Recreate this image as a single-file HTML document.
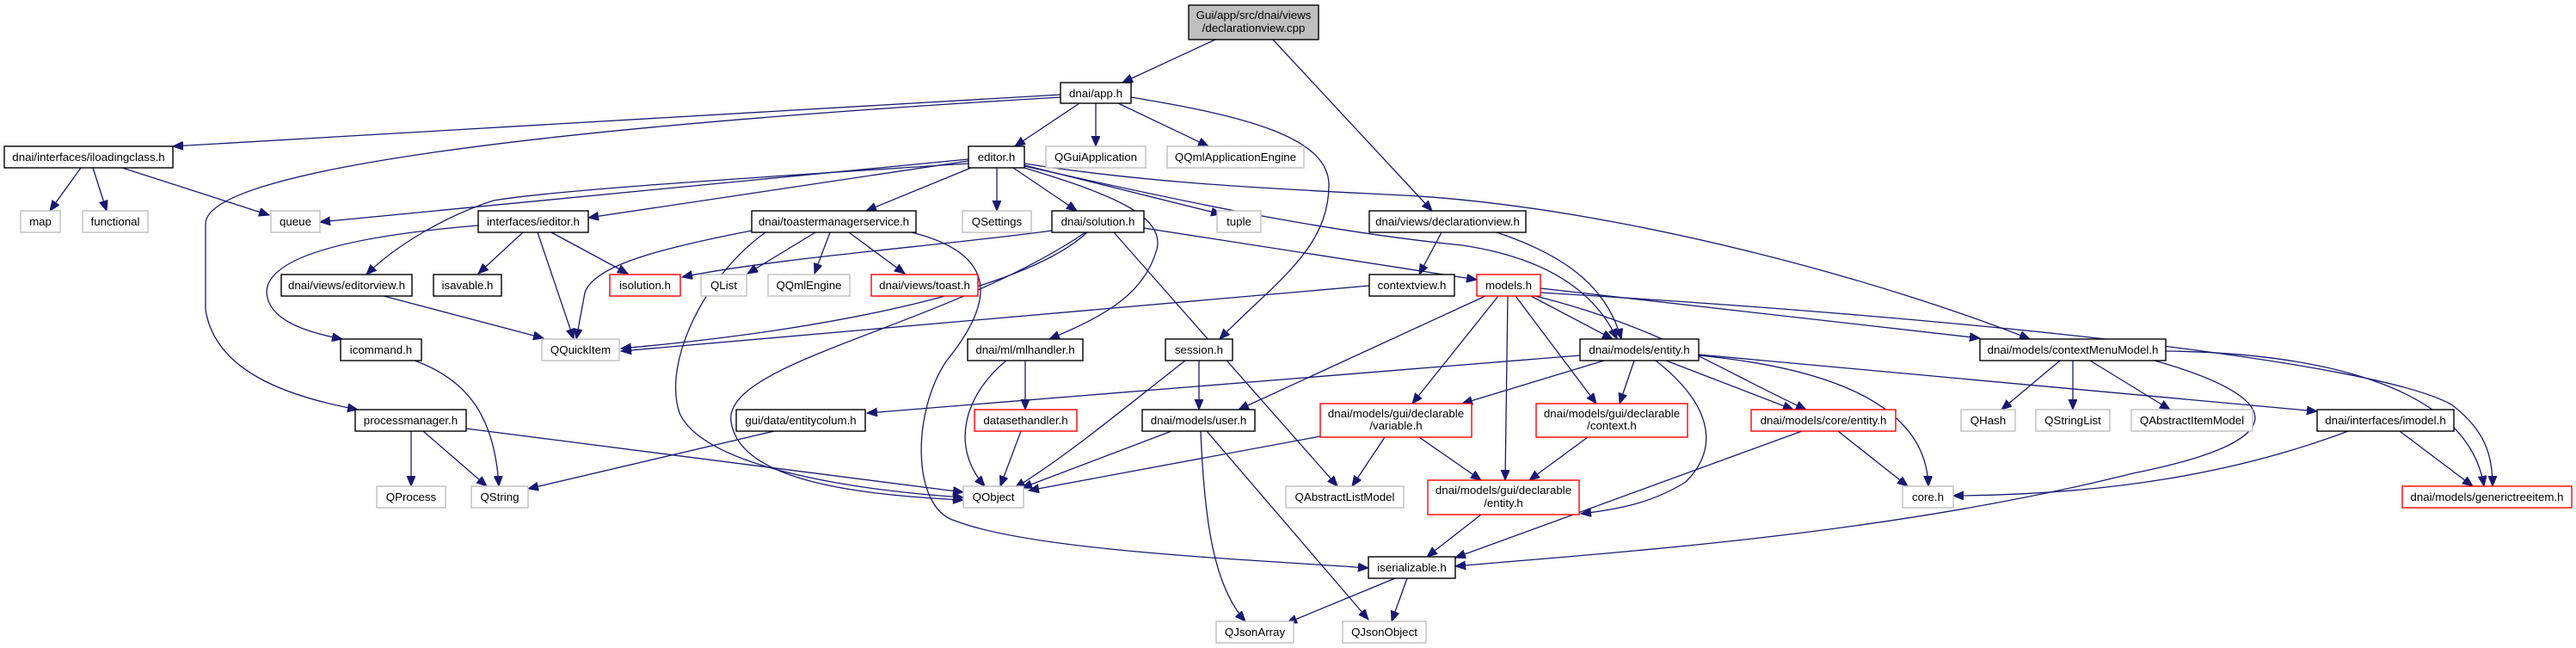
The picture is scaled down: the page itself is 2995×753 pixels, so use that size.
<!DOCTYPE html>
<html><head><meta charset="utf-8"><style>
html,body{margin:0;padding:0;background:#fff;}
svg{display:block;}
text{font-family:"Liberation Sans",Arial,sans-serif;font-size:13.3px;fill:#000;text-anchor:middle;}
.e{fill:none;stroke:#191970;stroke-width:1.3;marker-end:url(#a);}
.b{fill:#fff;stroke:#000;stroke-width:1.4;}
.g{fill:#fff;stroke:#bfbfbf;stroke-width:1.4;}
.r{fill:#fff;stroke:#ff0000;stroke-width:1.4;}
</style></head><body>
<svg width="2995" height="753" viewBox="0 0 2995 753" xmlns="http://www.w3.org/2000/svg">
<defs><marker id="a" markerUnits="userSpaceOnUse" markerWidth="14" markerHeight="12" refX="12" refY="5" orient="auto"><path d="M0,0 L12,5 L0,10 z" fill="#191970" stroke="#191970"/></marker></defs>

<!-- edges -->
<path class="e" d="M1413,46 L1305,96"/>
<path class="e" d="M1480,46 L1665,245"/>
<path class="e" d="M1233,110 L201,170"/>
<path class="e" d="M1233,113 C600,150 239,200 239,260 L239,360 C250,430 330,460 416,476"/>
<path class="e" d="M1255,120 L1180,170"/>
<path class="e" d="M1274,120 L1274,170"/>
<path class="e" d="M1300,120 L1405,170"/>
<path class="e" d="M1315,113 C1450,135 1545,160 1545,215 C1545,290 1480,330 1418,394"/>

<path class="e" d="M1126,185 L372,258"/>
<path class="e" d="M1126,187 L684,253"/>
<path class="e" d="M1126,190 C900,205 650,220 574,233 C520,250 460,285 426,319"/>
<path class="e" d="M1129,195 L1007,245"/>
<path class="e" d="M1159,195 L1159,245"/>
<path class="e" d="M1178,195 L1252,245"/>
<path class="e" d="M1191,192 L1420,249"/>
<path class="e" d="M1191,195 C1290,225 1355,250 1345,290 C1330,340 1290,365 1220,394"/>
<path class="e" d="M1191,193 C1400,240 1550,270 1700,285 C1800,300 1855,340 1880,394"/>
<path class="e" d="M1191,190 C1350,215 1500,220 1650,228 C1900,245 2200,330 2360,394"/>

<path class="e" d="M874,268 C760,290 690,310 680,340 L670,394"/>
<path class="e" d="M948,270 L869,318"/>
<path class="e" d="M965,270 L947,318"/>
<path class="e" d="M987,270 L1052,318"/>
<path class="e" d="M1060,270 C1180,300 1140,370 1100,420 C1060,480 1060,590 1110,605 C1200,640 1450,650 1591,660"/>
<path class="e" d="M890,270 C820,320 770,420 790,480 C820,545 1000,570 1120,578"/>

<path class="e" d="M556,262 C400,275 310,300 310,340 C312,370 350,385 398,394"/>
<path class="e" d="M608,270 L556,318"/>
<path class="e" d="M625,270 L667,394"/>
<path class="e" d="M641,270 L730,318"/>
<path class="e" d="M446,344 L632,393"/>
<path class="e" d="M94,195 L58,245"/>
<path class="e" d="M108,195 L124,245"/>
<path class="e" d="M142,195 L313,250"/>
<path class="e" d="M482,419 C540,440 575,480 580,565"/>
<path class="e" d="M478,501 L478,565"/>
<path class="e" d="M492,501 L566,565"/>
<path class="e" d="M542,498 L1120,572"/>
<path class="e" d="M900,501 L614,568"/>

<path class="e" d="M1192,419 L1192,476"/>
<path class="e" d="M1170,419 C1120,460 1105,520 1145,565"/>
<path class="e" d="M1187,501 L1163,565"/>
<path class="e" d="M1378,419 C1300,480 1240,530 1180,567"/>
<path class="e" d="M1394,419 L1394,476"/>
<path class="e" d="M1362,501 L1188,567"/>
<path class="e" d="M1396,501 C1400,600 1410,680 1448,722"/>
<path class="e" d="M1403,501 L1591,720"/>
<path class="e" d="M1535,507 L1196,570"/>

<path class="e" d="M1223,268 C1100,285 900,300 793,322"/>
<path class="e" d="M1264,270 C1200,330 1000,380 722,405"/>
<path class="e" d="M1262,270 C1100,380 840,420 850,490 C860,560 1000,575 1120,581"/>
<path class="e" d="M1330,265 L1717,325"/>
<path class="e" d="M1295,270 L1555,565"/>

<path class="e" d="M1676,270 L1650,319"/>
<path class="e" d="M1740,270 C1830,300 1870,340 1885,394"/>
<path class="e" d="M1592,332 L722,408"/>

<path class="e" d="M1780,344 L1875,394"/>
<path class="e" d="M1727,344 L1440,476"/>
<path class="e" d="M1742,344 L1642,469"/>
<path class="e" d="M1753,344 L1750,558"/>
<path class="e" d="M1762,344 L1856,469"/>
<path class="e" d="M1785,344 C1930,380 2000,430 2100,476"/>
<path class="e" d="M1791,335 L2302,393"/>
<path class="e" d="M1791,340 C2300,370 2760,420 2850,470 C2890,500 2898,530 2898,565"/>

<path class="e" d="M1837,413 L1008,480"/>
<path class="e" d="M1865,419 L1700,469"/>
<path class="e" d="M1900,419 L1883,469"/>
<path class="e" d="M1925,419 C1990,470 2000,520 1960,560 C1920,585 1880,592 1838,597"/>
<path class="e" d="M1937,419 L2085,476"/>
<path class="e" d="M1975,413 C2150,430 2240,480 2242,565"/>
<path class="e" d="M1975,412 L2694,478"/>
<path class="e" d="M1610,508 L1572,565"/>
<path class="e" d="M1650,508 L1722,558"/>
<path class="e" d="M1846,508 L1778,558"/>
<path class="e" d="M1722,598 L1659,647"/>
<path class="e" d="M2095,501 L1692,648"/>
<path class="e" d="M2137,501 L2218,565"/>

<path class="e" d="M2395,419 L2327,476"/>
<path class="e" d="M2410,419 L2410,476"/>
<path class="e" d="M2430,419 L2523,476"/>
<path class="e" d="M2505,419 C2650,460 2680,510 2480,550 C2200,620 1900,640 1692,658"/>
<path class="e" d="M2518,408 C2700,410 2870,450 2888,565"/>
<path class="e" d="M2730,501 C2600,550 2450,575 2271,576"/>
<path class="e" d="M2790,501 L2875,565"/>
<path class="e" d="M1622,672 L1496,724"/>
<path class="e" d="M1636,672 L1618,722"/>

<!-- nodes -->
<rect x="1382" y="6" width="151" height="40" fill="#bfbfbf" stroke="#000" stroke-width="1.4"/>
<text x="1457.5" y="22">Gui/app/src/dnai/views</text><text x="1457.5" y="37">/declarationview.cpp</text>

<rect class="b" x="1233" y="96" width="82" height="24"/><text x="1274" y="113">dnai/app.h</text>
<rect class="b" x="5" y="170" width="196" height="25"/><text x="103" y="187">dnai/interfaces/iloadingclass.h</text>
<rect class="b" x="1126" y="170" width="65" height="25"/><text x="1158.5" y="187">editor.h</text>
<rect class="g" x="1216" y="170" width="116" height="25"/><text x="1274" y="187">QGuiApplication</text>
<rect class="g" x="1357" y="170" width="159" height="25"/><text x="1436.5" y="187">QQmlApplicationEngine</text>

<rect class="g" x="24" y="245" width="46" height="25"/><text x="47" y="262">map</text>
<rect class="g" x="96" y="245" width="76" height="25"/><text x="134" y="262">functional</text>
<rect class="g" x="315" y="245" width="57" height="25"/><text x="343.5" y="262">queue</text>
<rect class="b" x="556" y="245" width="128" height="25"/><text x="620" y="262">interfaces/ieditor.h</text>
<rect class="b" x="874" y="245" width="191" height="25"/><text x="969.5" y="262">dnai/toastermanagerservice.h</text>
<rect class="g" x="1119" y="245" width="80" height="25"/><text x="1159" y="262">QSettings</text>
<rect class="b" x="1223" y="245" width="107" height="25"/><text x="1276.5" y="262">dnai/solution.h</text>
<rect class="g" x="1415" y="245" width="51" height="25"/><text x="1440.5" y="262">tuple</text>
<rect class="b" x="1592" y="245" width="182" height="25"/><text x="1683" y="262">dnai/views/declarationview.h</text>

<rect class="b" x="327" y="319" width="152" height="25"/><text x="403" y="336">dnai/views/editorview.h</text>
<rect class="b" x="504" y="319" width="79" height="25"/><text x="543.5" y="336">isavable.h</text>
<rect class="r" x="709" y="319" width="82" height="25"/><text x="750" y="336">isolution.h</text>
<rect class="g" x="815" y="319" width="53" height="25"/><text x="841.5" y="336">QList</text>
<rect class="g" x="893" y="319" width="95" height="25"/><text x="940.5" y="336">QQmlEngine</text>
<rect class="r" x="1013" y="319" width="124" height="25"/><text x="1075" y="336">dnai/views/toast.h</text>
<rect class="b" x="1592" y="319" width="99" height="25"/><text x="1641.5" y="336">contextview.h</text>
<rect class="r" x="1717" y="319" width="74" height="25"/><text x="1754" y="336">models.h</text>

<rect class="b" x="396" y="394" width="94" height="25"/><text x="443" y="411">icommand.h</text>
<rect class="g" x="630" y="394" width="90" height="25"/><text x="675" y="411">QQuickItem</text>
<rect class="b" x="1125" y="394" width="134" height="25"/><text x="1192" y="411">dnai/ml/mlhandler.h</text>
<rect class="b" x="1355" y="394" width="78" height="25"/><text x="1394" y="411">session.h</text>
<rect class="b" x="1837" y="394" width="138" height="25"/><text x="1906" y="411">dnai/models/entity.h</text>
<rect class="b" x="2302" y="394" width="216" height="25"/><text x="2410" y="411">dnai/models/contextMenuModel.h</text>

<rect class="b" x="413" y="476" width="129" height="25"/><text x="477.5" y="493">processmanager.h</text>
<rect class="b" x="856" y="476" width="150" height="25"/><text x="931" y="493">gui/data/entitycolum.h</text>
<rect class="r" x="1133" y="476" width="119" height="25"/><text x="1192.5" y="493">datasethandler.h</text>
<rect class="b" x="1328" y="476" width="131" height="25"/><text x="1393.5" y="493">dnai/models/user.h</text>
<rect class="r" x="1535" y="469" width="176" height="39"/><text x="1623" y="485">dnai/models/gui/declarable</text><text x="1623" y="499">/variable.h</text>
<rect class="r" x="1786" y="469" width="176" height="39"/><text x="1874" y="485">dnai/models/gui/declarable</text><text x="1874" y="499">/context.h</text>
<rect class="r" x="2036" y="476" width="168" height="25"/><text x="2120" y="493">dnai/models/core/entity.h</text>
<rect class="g" x="2280" y="476" width="63" height="25"/><text x="2311.5" y="493">QHash</text>
<rect class="g" x="2367" y="476" width="86" height="25"/><text x="2410" y="493">QStringList</text>
<rect class="g" x="2478" y="476" width="141" height="25"/><text x="2548.5" y="493">QAbstractItemModel</text>
<rect class="b" x="2694" y="476" width="159" height="25"/><text x="2773.5" y="493">dnai/interfaces/imodel.h</text>

<rect class="g" x="438" y="565" width="80" height="25"/><text x="478" y="582">QProcess</text>
<rect class="g" x="548" y="565" width="66" height="25"/><text x="581" y="582">QString</text>
<rect class="g" x="1120" y="565" width="70" height="25"/><text x="1155" y="582">QObject</text>
<rect class="g" x="1495" y="565" width="137" height="25"/><text x="1563.5" y="582">QAbstractListModel</text>
<rect class="r" x="1660" y="558" width="176" height="40"/><text x="1748" y="574">dnai/models/gui/declarable</text><text x="1748" y="589">/entity.h</text>
<rect class="g" x="2212" y="565" width="59" height="25"/><text x="2241.5" y="582">core.h</text>
<rect class="r" x="2793" y="565" width="197" height="25"/><text x="2891.5" y="582">dnai/models/generictreeitem.h</text>

<rect class="b" x="1591" y="647" width="101" height="25"/><text x="1641.5" y="664">iserializable.h</text>
<rect class="g" x="1414" y="722" width="90" height="25"/><text x="1459" y="739">QJsonArray</text>
<rect class="g" x="1561" y="722" width="97" height="25"/><text x="1609.5" y="739">QJsonObject</text>
</svg>
</body></html>
